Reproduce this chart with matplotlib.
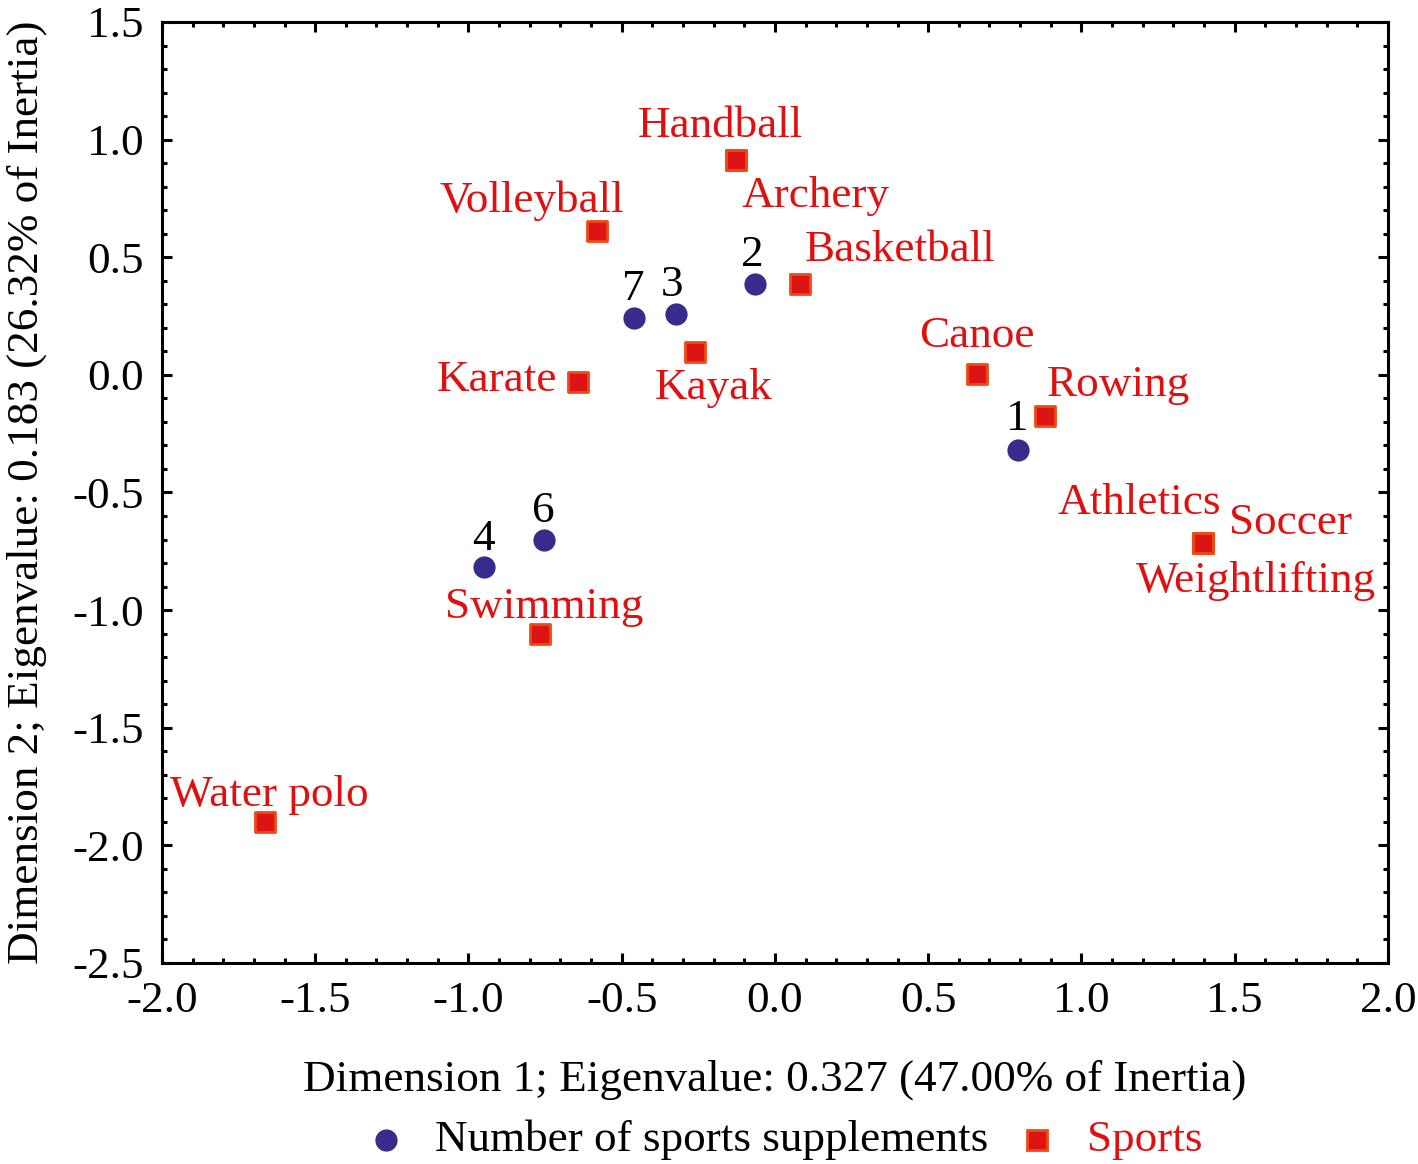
import matplotlib
matplotlib.use("Agg")
import matplotlib.pyplot as plt
from matplotlib.ticker import MultipleLocator, FormatStrFormatter
from matplotlib.lines import Line2D

plt.rcParams['font.family'] = ['Liberation Serif', 'DejaVu Serif']

# Supplement-count categories (blue circles)
supp_labels = ['1', '2', '3', '4', '6', '7']
supp_x = [0.793, -0.065, -0.323, -0.949, -0.754, -0.460]
supp_y = [-0.319, 0.387, 0.259, -0.816, -0.701, 0.242]

# Sports (red squares)
sport_labels = ['Handball', 'Archery', 'Volleyball', 'Basketball', 'Kayak', 'Karate',
                'Canoe', 'Rowing', 'Athletics', 'Soccer', 'Weightlifting',
                'Swimming', 'Water polo']
sport_x = [-0.127, -0.127, -0.581, 0.082, -0.261, -0.643, 0.659, 0.881,
           1.396, 1.396, 1.396, -0.767, -1.664]
sport_y = [0.914, 0.914, 0.612, 0.387, 0.098, -0.030, 0.004, -0.174,
           -0.714, -0.714, -0.714, -1.101, -1.900]

# label offsets in pixels (dx, dy) from the marker
sport_off = {'Handball': (-16, 34), 'Archery': (79, -36), 'Volleyball': (-65, 30),
             'Basketball': (100, 34), 'Kayak': (19, -36), 'Karate': (-81, 2),
             'Canoe': (0, 38), 'Rowing': (73, 31), 'Athletics': (-64, 40),
             'Soccer': (88, 20), 'Weightlifting': (53, -38), 'Swimming': (4, 27),
             'Water polo': (4, 27)}
supp_off = {'1': (-1, 31), '2': (-3, 29), '3': (-4, 29), '4': (-1, 28),
            '6': (-1, 29), '7': (-1, 29)}

blue = '#372c8c'
red_face = '#dc1414'
red_edge = '#ee4a14'
red_text = '#e01010'
fs = 32.5

W, H = 1418, 1164
fig = plt.figure(figsize=(W / 100, H / 100), dpi=100)
ax = fig.add_axes([0.1142, 0.1727, 0.8646, 0.8084])

ax.scatter(supp_x, supp_y, s=16**2, marker='o', color=blue, zorder=3, linewidths=0)
ax.scatter(sport_x, sport_y, s=14**2, marker='s', facecolor=red_face,
           edgecolor=red_edge, linewidths=2, zorder=3)

for lab, x, y in zip(supp_labels, supp_x, supp_y):
    ax.annotate(lab, (x, y), xytext=supp_off[lab], textcoords='offset pixels',
                ha='center', va='center', fontsize=fs, color='black')
for lab, x, y in zip(sport_labels, sport_x, sport_y):
    ax.annotate(lab, (x, y), xytext=sport_off[lab], textcoords='offset pixels',
                ha='center', va='center', fontsize=fs, color=red_text)

ax.set_xlim(-2.0, 2.0)
ax.set_ylim(-2.5, 1.5)
ax.xaxis.set_major_locator(MultipleLocator(0.5))
ax.xaxis.set_minor_locator(MultipleLocator(0.1))
ax.yaxis.set_major_locator(MultipleLocator(0.5))
ax.yaxis.set_minor_locator(MultipleLocator(0.1))
ax.xaxis.set_major_formatter(FormatStrFormatter('%.1f'))
ax.yaxis.set_major_formatter(FormatStrFormatter('%.1f'))
ax.tick_params(which='both', direction='in', top=True, right=True, width=2.2)
ax.tick_params(which='major', length=7, labelsize=fs, pad=13)
ax.tick_params(which='minor', length=3.5)
for sp in ax.spines.values():
    sp.set_linewidth(2.2)

ax.set_xlabel('Dimension 1; Eigenvalue: 0.327 (47.00% of Inertia)', fontsize=fs)
ax.set_ylabel('Dimension 2; Eigenvalue: 0.183 (26.32% of Inertia)', fontsize=fs)
ax.xaxis.set_label_coords(0.5, -0.103)
ax.yaxis.set_label_coords(-0.094, 0.5)

# legend drawn by hand along the bottom
ly = 1 - 1140 / H
fig.add_artist(Line2D([386 / W], [ly], marker='o', linestyle='', color=blue,
                      markersize=16, markeredgewidth=0, transform=fig.transFigure))
fig.text(435 / W, ly, 'Number of sports supplements', fontsize=fs, va='center')
fig.add_artist(Line2D([1037 / W], [ly], marker='s', linestyle='',
                      markerfacecolor=red_face, markeredgecolor=red_edge,
                      markeredgewidth=2, markersize=14, transform=fig.transFigure))
fig.text(1087 / W, ly, 'Sports', fontsize=fs, va='center', color=red_text)

fig.savefig('out.png', dpi=100)
